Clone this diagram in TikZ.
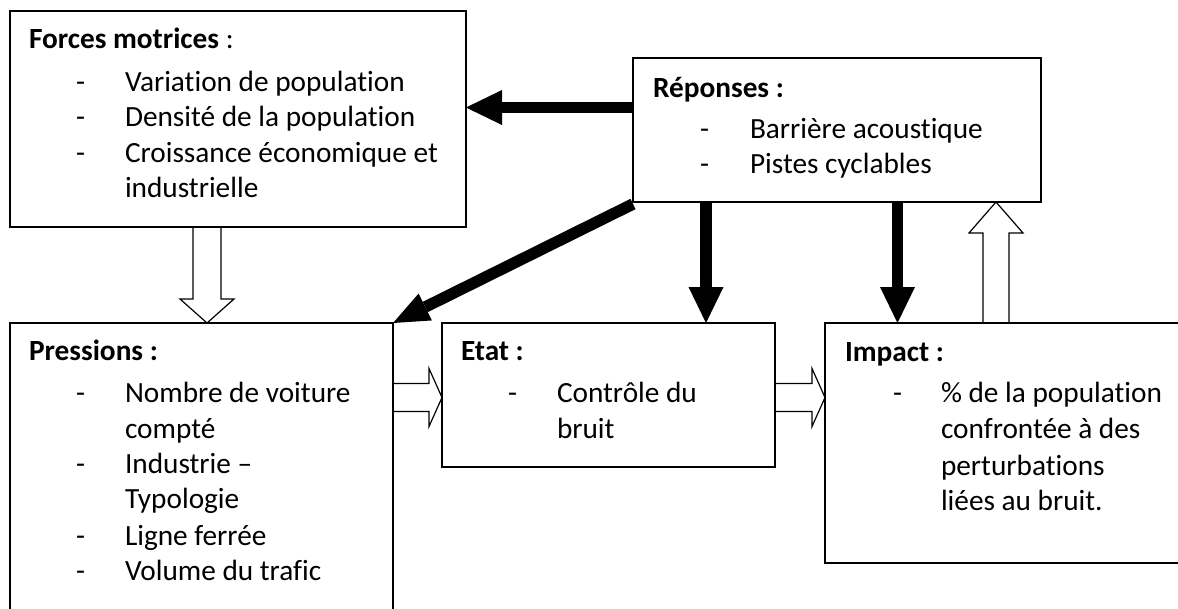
\documentclass[tikz,border=0pt]{standalone}
\usepackage{fontspec}
\setmainfont{Carlito}[Ligatures={NoCommon}]
\usetikzlibrary{arrows.meta,calc}
\pgfdeclarelayer{bg}
\pgfsetlayers{bg,main}
\newcommand\fsz{\fontsize{29.3}{35.4}\selectfont}
\begin{document}
\begin{tikzpicture}[x=1pt,y=-1pt,
  box/.style={draw,line width=1.2pt,rectangle,inner sep=0pt,outer sep=0pt,anchor=north west},
  txt/.style={inner sep=0pt,outer sep=0pt,anchor=base west,font=\fsz},
  hollow/.style={draw,line width=1.2pt,fill=white,line join=miter},
  blackarrow/.style={line width=11.5pt,-{Triangle[length=36pt,width=35pt,line width=0pt]}},
  diagarrow/.style={line width=11.5pt,-{Triangle[length=36pt,width=30pt,line width=0pt]}}]
\useasboundingbox (0,0) rectangle (1178,608);
\clip (0,0) rectangle (1178,608);

% boxes
\node[box,minimum width=456pt,minimum height=216pt] (forces) at (10,11) {};
\node[box,minimum width=408pt,minimum height=144pt] (rep) at (633,58) {};
\node[box,minimum width=383pt,minimum height=320pt] (press) at (10,323) {};
\node[box,minimum width=333pt,minimum height=144pt] (etat) at (442,323) {};
\node[box,minimum width=380pt,minimum height=240pt] (impact) at (825,323) {};

% Forces motrices
\node[txt] (ft) at (29,48) {\textbf{Forces motrices} :};
\node[txt] (fd1) at (76,91) {-};
\node[txt] (fl1) at (125,91) {Variation de population};
\node[txt] (fd2) at (76,126.5) {-};
\node[txt] (fl2) at (125,126.5) {Densité de la population};
\node[txt] (fd3) at (76,162) {-};
\node[txt] (fl3) at (125,162) {Croissance économique et};
\node[txt] (fl4) at (125,197.5) {industrielle};

% Reponses
\node[txt] (rt) at (653,97) {\textbf{Réponses :}};
\node[txt] (rd1) at (700,138) {-};
\node[txt] (rl1) at (750,138) {Barrière acoustique};
\node[txt] (rd2) at (700,173) {-};
\node[txt] (rl2) at (750,173) {Pistes cyclables};

% Pressions
\node[txt] (pt) at (29,360) {\textbf{Pressions :}};
\node[txt] (pd1) at (76,402) {-};
\node[txt] (pl1) at (125,402) {Nombre de voiture};
\node[txt] (pl2) at (125,438) {compté};
\node[txt] (pd2) at (76,473) {-};
\node[txt] (pl3) at (125,473) {Industrie –};
\node[txt] (pl4) at (125,508) {Typologie};
\node[txt] (pd3) at (76,545) {-};
\node[txt] (pl5) at (125,545) {Ligne ferrée};
\node[txt] (pd4) at (76,580) {-};
\node[txt] (pl6) at (125,580) {Volume du trafic};

% Etat
\node[txt] (et) at (461,360) {\textbf{Etat :}};
\node[txt] (ed1) at (508,402) {-};
\node[txt] (el1) at (557,402) {Contrôle du};
\node[txt] (el2) at (557,438) {bruit};

% Impact
\node[txt] (it) at (845,361) {\textbf{Impact :}};
\node[txt] (id1) at (893,402) {-};
\node[txt] (il1) at (941,402) {\% de la population};
\node[txt] (il2) at (941,438) {confrontée à des};
\node[txt] (il3) at (941,475) {perturbations};
\node[txt] (il4) at (941,510) {liées au bruit.};

\begin{pgfonlayer}{bg}
% hollow arrow Forces -> Pressions
\coordinate (fpS) at ([xshift=-31pt]forces.south);
\coordinate (fpE) at (fpS |- press.north);
\draw[hollow] ([xshift=-14pt]fpS) -- ([xshift=-14pt,yshift=24pt]fpE) -- ([xshift=-27pt,yshift=24pt]fpE) -- (fpE)
  -- ([xshift=27pt,yshift=24pt]fpE) -- ([xshift=14pt,yshift=24pt]fpE) -- ([xshift=14pt]fpS);
% hollow arrow Pressions -> Etat
\coordinate (peS) at ([yshift=-74.5pt]press.north east);
\coordinate (peE) at (peS -| etat.west);
\draw[hollow] ([yshift=14pt]peS) -- ([xshift=-13pt,yshift=14pt]peE) -- ([xshift=-13pt,yshift=29pt]peE) -- (peE)
  -- ([xshift=-13pt,yshift=-29pt]peE) -- ([xshift=-13pt,yshift=-14pt]peE) -- ([yshift=-14pt]peS);
% hollow arrow Etat -> Impact
\coordinate (eiS) at ([yshift=-74.5pt]etat.north east);
\coordinate (eiE) at (eiS -| impact.west);
\draw[hollow] ([yshift=14pt]eiS) -- ([xshift=-13pt,yshift=14pt]eiE) -- ([xshift=-13pt,yshift=29pt]eiE) -- (eiE)
  -- ([xshift=-13pt,yshift=-29pt]eiE) -- ([xshift=-13pt,yshift=-14pt]eiE) -- ([yshift=-14pt]eiS);
% hollow arrow Impact -> Reponses
\coordinate (irS) at ([xshift=171pt]impact.north west);
\coordinate (irE) at (irS |- rep.south);
\draw[hollow] ([xshift=-13pt]irS) -- ([xshift=-13pt,yshift=-31pt]irE) -- ([xshift=-27pt,yshift=-31pt]irE) -- (irE)
  -- ([xshift=27pt,yshift=-31pt]irE) -- ([xshift=13pt,yshift=-31pt]irE) -- ([xshift=13pt]irS);
% black arrows
\coordinate (rfS) at ([yshift=22.5pt]rep.west);
\draw[blackarrow] (rfS) -- (rfS -| forces.east);
\coordinate (reS) at ([xshift=73pt]rep.south west);
\draw[blackarrow] (reS) -- (reS |- etat.north);
\coordinate (riS) at ([xshift=264.5pt]rep.south west);
\draw[blackarrow] (riS) -- (riS |- impact.north);
\coordinate (rpS) at ([yshift=-2pt]rep.south west);
\draw[diagarrow] (rpS) -- (press.north east);
\end{pgfonlayer}
\end{tikzpicture}
\end{document}
